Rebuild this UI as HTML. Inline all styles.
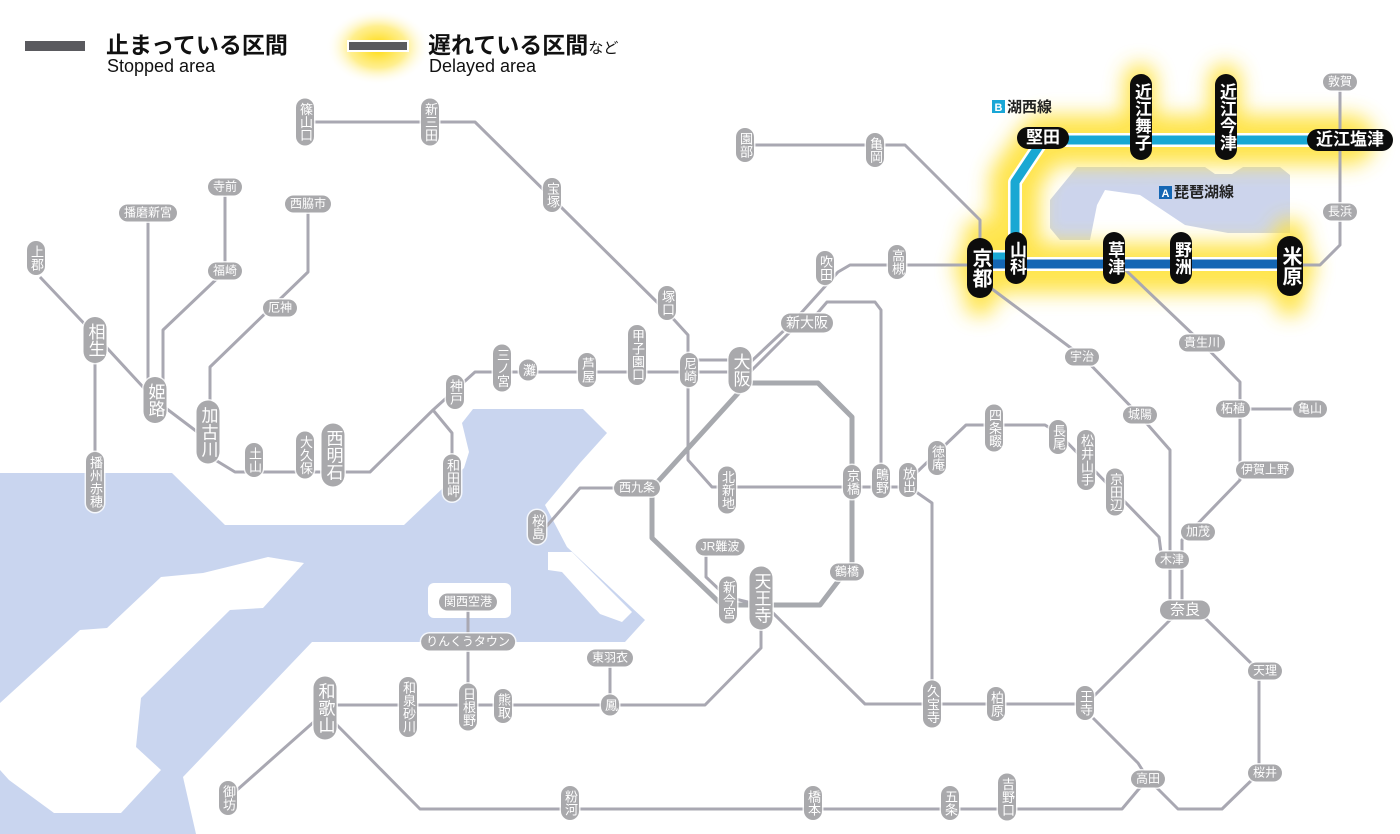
<!DOCTYPE html>
<html><head><meta charset="utf-8">
<style>
html,body{margin:0;padding:0;background:#fff;}
#w{position:relative;width:1400px;height:834px;overflow:hidden;font-family:"Liberation Sans","Noto Sans CJK JP",sans-serif;}
svg{position:absolute;left:0;top:0;}
.s{position:absolute;transform:translate(-50%,-50%);background:#a9a9ac;color:#fff;font:12px/17px "Liberation Sans","Noto Sans CJK JP",sans-serif;border-radius:9px;padding:0 5px;white-space:nowrap;box-shadow:0 0 0 1.5px rgba(255,255,255,.8);}
.v{writing-mode:vertical-rl;text-orientation:upright;padding:4px 0;width:18px;font-size:13px;line-height:18px;text-align:center;}
.L{font-size:17px;width:23px;line-height:23px;border-radius:12px;padding:6px 0;}
.k{background:#0c0c0c;font-weight:bold;font-size:17px;line-height:22px;border-radius:11px;padding:0 9px;box-shadow:none;}
.kv{writing-mode:vertical-rl;text-orientation:upright;width:22px;padding:9px 0;}
.kb{font-size:20px;width:26px;line-height:26px;border-radius:13px;padding:10px 0;}
.t{position:absolute;white-space:nowrap;color:#111;}
</style></head><body><div id="w">
<svg width="1400" height="834" viewBox="0 0 1400 834">
<defs>
<filter id="bl" x="-20%" y="-50%" width="140%" height="200%"><feGaussianBlur stdDeviation="10"/></filter>
<radialGradient id="lg"><stop offset="0" stop-color="#ffd800"/><stop offset="0.55" stop-color="#ffe860" stop-opacity=".7"/><stop offset="1" stop-color="#fff" stop-opacity="0"/></radialGradient>
</defs>
<polygon fill="#c9d5ef" points="0,473 172,473 225,525 404,525 464,468 469,452 462,423 473,409 583,409 607,433 580,463 545,505 567,547 645,620 625,642 312,642 183,777 196,834 0,834"/>
<polygon fill="#fff" points="0,703 80,630 107,628 161,577 203,573 268,557 304,563 263,608 230,610 141,698 136,747 161,770 121,813 54,813 9,780 0,770"/>
<rect x="428" y="583" width="83" height="35" rx="6" fill="#fff"/>
<polygon fill="#fff" points="548,552 572,552 632,612 622,622 600,614 562,572 548,570"/>
<polygon fill="#ccd4ec" points="1050,200 1077,167 1205,167 1215,174 1232,174 1243,167 1280,167 1290,175 1290,233 1228,233 1185,225 1140,195 1105,190 1097,205 1090,240 1060,240 1050,228"/>
<g filter="url(#bl)" fill="none" stroke="#ffe23a" stroke-linejoin="round" stroke-linecap="round" opacity=".9">
<polyline stroke-width="50" points="980,268 1290,268"/>
<polyline stroke-width="50" points="1015,258 1015,180 1043,140 1350,140"/>
<polyline stroke-width="32" points="980,235 980,300"/>
<polyline stroke-width="32" points="1290,235 1290,300"/>
<polyline stroke-width="32" points="1140,80 1140,150"/>
<polyline stroke-width="32" points="1225,80 1225,150"/>
</g>
<ellipse cx="378" cy="47" rx="52" ry="38" fill="url(#lg)"/>
<rect x="25" y="41" width="60" height="10" fill="#5a5a5e"/>
<rect x="347" y="40" width="62" height="12" fill="#fff"/>
<rect x="349" y="42" width="58" height="8" fill="#5a5a5e"/>
<g fill="none" stroke="#a9a8b2" stroke-width="3" stroke-linejoin="round">
<polyline points="305,122 475,122 667,312 688,335 688,460 712,487 909,487"/>
<polyline points="40,277 95,335 155,400 208,440 212,458 235,472 370,472 433,410 475,372 740,372"/>
<polyline points="688,360 740,360"/>
<polyline points="95,342 95,480"/>
<polyline points="148,213 148,400"/>
<polyline points="225,187 225,271 163,330 163,400"/>
<polyline points="308,204 308,272 210,367 210,432"/>
<polyline points="433,410 452,433 452,478"/>
<polyline points="740,372 793,322 838,272 850,265 980,265"/>
<polyline points="750,372 800,322 809,318"/>
<polyline points="809,323 827,302 875,302 881,310 881,480"/>
<polyline points="745,145 905,145 980,220 980,265"/>
<polyline points="637,488 580,488 545,528"/>
<polyline points="706,547 706,577 727,597 760,605"/>
<polyline points="909,487 916,473 966,425 1045,425 1058,433 1159,537 1162,560"/>
<polyline points="980,280 1083,357 1141,417 1170,450 1170,610"/>
<polyline points="1113,258 1202,343 1240,382 1240,480 1182,540 1182,607"/>
<polyline points="1240,409 1310,409"/>
<polyline points="1290,265 1320,265 1340,245 1340,82"/>
<polyline points="760,605 773,613 865,704 1085,704"/>
<polyline points="909,487 932,503 932,704"/>
<polyline points="1085,704 1093,697 1170,620 1185,610"/>
<polyline points="1200,615 1207,620 1259,671 1259,773 1222,809 1178,809 1148,779"/>
<polyline points="1093,718 1138,763 1148,779 1138,790 1122,809 420,809 330,718"/>
<polyline points="761,605 761,648 705,705 325,705"/>
<polyline points="468,602 468,705"/>
<polyline points="610,658 610,705"/>
<polyline points="325,712 228,798"/>
</g>
<polyline fill="none" stroke="#a7a9ae" stroke-width="5" stroke-linejoin="round" points="741,390 750,383 818,383 852,417 852,563 820,605 722,605 652,538 652,488 741,390"/>
<g fill="none" stroke-linejoin="round">
<polyline stroke="#fff" stroke-width="14" points="980,257 1015,257 1015,182 1043,140 1350,140"/>
<polyline stroke="#fff" stroke-width="14" points="980,264 1290,264"/>
<polyline stroke="#19a8d3" stroke-width="9" points="980,257 1015,257 1015,182 1043,140 1350,140"/>
<polyline stroke="#1466b4" stroke-width="9" points="980,264 1290,264"/>
</g>
<rect x="992" y="100" width="13" height="13" fill="#1aa6d6"/>
<text x="998.5" y="111" font-size="11" font-weight="bold" fill="#fff" text-anchor="middle" font-family="Liberation Sans">B</text>
<rect x="1159" y="186" width="13" height="13" fill="#1466b4"/>
<text x="1165.5" y="197" font-size="11" font-weight="bold" fill="#fff" text-anchor="middle" font-family="Liberation Sans">A</text>
</svg>

<div class="t" style="left:106px;top:26px;font-size:23px;font-weight:bold;">止まっている区間</div>
<div class="t" style="left:107px;top:56px;font-size:18px;">Stopped area</div>
<div class="t" style="left:428px;top:26px;font-size:23px;font-weight:bold;">遅れている区間<span style="font-size:15px;font-weight:normal">など</span></div>
<div class="t" style="left:429px;top:56px;font-size:18px;">Delayed area</div>
<div class="t" style="left:1007px;top:96px;font-size:15px;font-weight:bold;color:#222">湖西線</div>
<div class="t" style="left:1174px;top:181px;font-size:15px;font-weight:bold;color:#222">琵琶湖線</div>

<div class="s v" style="left:305px;top:122px">篠山口</div>
<div class="s v" style="left:430px;top:122px">新三田</div>
<div class="s v" style="left:552px;top:195px">宝塚</div>
<div class="s v" style="left:667px;top:303px">塚口</div>
<div class="s v" style="left:689px;top:370px">尼崎</div>
<div class="s v L" style="left:740px;top:370px">大阪</div>
<div class="s v" style="left:637px;top:355px">甲子園口</div>
<div class="s v" style="left:587px;top:370px">芦屋</div>
<div class="s v" style="left:528px;top:370px">灘</div>
<div class="s v" style="left:502px;top:368px">三ノ宮</div>
<div class="s v" style="left:455px;top:392px">神戸</div>
<div class="s v" style="left:452px;top:478px">和田岬</div>
<div class="s v L" style="left:333px;top:455px">西明石</div>
<div class="s v" style="left:305px;top:455px">大久保</div>
<div class="s v" style="left:254px;top:460px">土山</div>
<div class="s v L" style="left:208px;top:432px">加古川</div>
<div class="s v L" style="left:155px;top:400px">姫路</div>
<div class="s v L" style="left:95px;top:340px">相生</div>
<div class="s v" style="left:36px;top:258px">上郡</div>
<div class="s v" style="left:95px;top:482px">播州赤穂</div>
<div class="s" style="left:148px;top:213px">播磨新宮</div>
<div class="s" style="left:225px;top:187px">寺前</div>
<div class="s" style="left:225px;top:271px">福崎</div>
<div class="s" style="left:308px;top:204px">西脇市</div>
<div class="s" style="left:280px;top:308px">厄神</div>
<div class="s v" style="left:745px;top:145px">園部</div>
<div class="s v" style="left:875px;top:150px">亀岡</div>
<div class="s v" style="left:825px;top:268px">吹田</div>
<div class="s v" style="left:897px;top:262px">高槻</div>
<div class="s" style="left:807px;top:323px;font-size:14px;line-height:19px;border-radius:10px">新大阪</div>
<div class="s" style="left:1340px;top:82px">敦賀</div>
<div class="s" style="left:1340px;top:212px">長浜</div>
<div class="s" style="left:1082px;top:357px">宇治</div>
<div class="s" style="left:1140px;top:415px">城陽</div>
<div class="s" style="left:1202px;top:343px">貴生川</div>
<div class="s" style="left:1233px;top:409px">柘植</div>
<div class="s" style="left:1310px;top:409px">亀山</div>
<div class="s" style="left:1265px;top:470px">伊賀上野</div>
<div class="s" style="left:1198px;top:532px">加茂</div>
<div class="s" style="left:1172px;top:560px">木津</div>
<div class="s" style="left:1185px;top:610px;font-size:15px;line-height:19px;border-radius:10px;padding:0 10px">奈良</div>
<div class="s" style="left:1265px;top:671px">天理</div>
<div class="s" style="left:1265px;top:773px">桜井</div>
<div class="s" style="left:1148px;top:779px">高田</div>
<div class="s v" style="left:1085px;top:703px">王寺</div>
<div class="s v" style="left:996px;top:704px">柏原</div>
<div class="s v" style="left:932px;top:704px">久宝寺</div>
<div class="s v" style="left:908px;top:480px">放出</div>
<div class="s v" style="left:881px;top:481px">鴫野</div>
<div class="s v" style="left:852px;top:482px">京橋</div>
<div class="s v" style="left:937px;top:458px">徳庵</div>
<div class="s v" style="left:994px;top:428px">四条畷</div>
<div class="s v" style="left:1058px;top:437px">長尾</div>
<div class="s v" style="left:1086px;top:460px">松井山手</div>
<div class="s v" style="left:1115px;top:492px">京田辺</div>
<div class="s v" style="left:727px;top:490px">北新地</div>
<div class="s" style="left:637px;top:488px">西九条</div>
<div class="s v" style="left:537px;top:527px">桜島</div>
<div class="s" style="left:720px;top:547px">JR難波</div>
<div class="s v" style="left:728px;top:600px">新今宮</div>
<div class="s v L" style="left:761px;top:598px">天王寺</div>
<div class="s" style="left:847px;top:572px">鶴橋</div>
<div class="s" style="left:468px;top:602px">関西空港</div>
<div class="s" style="left:468px;top:642px">りんくうタウン</div>
<div class="s" style="left:610px;top:658px">東羽衣</div>
<div class="s v" style="left:610px;top:705px">鳳</div>
<div class="s v" style="left:503px;top:706px">熊取</div>
<div class="s v" style="left:468px;top:707px">日根野</div>
<div class="s v" style="left:408px;top:707px">和泉砂川</div>
<div class="s v L" style="left:325px;top:708px">和歌山</div>
<div class="s v" style="left:228px;top:798px">御坊</div>
<div class="s v" style="left:570px;top:803px">粉河</div>
<div class="s v" style="left:813px;top:803px">橋本</div>
<div class="s v" style="left:950px;top:803px">五条</div>
<div class="s v" style="left:1007px;top:797px">吉野口</div>

<div class="s k kv kb" style="left:980px;top:268px">京都</div>
<div class="s k kv" style="left:1016px;top:258px">山科</div>
<div class="s k" style="left:1043px;top:138px">堅田</div>
<div class="s k kv" style="left:1141px;top:117px">近江舞子</div>
<div class="s k kv" style="left:1226px;top:117px">近江今津</div>
<div class="s k" style="left:1350px;top:140px">近江塩津</div>
<div class="s k kv" style="left:1114px;top:258px">草津</div>
<div class="s k kv" style="left:1181px;top:258px">野洲</div>
<div class="s k kv kb" style="left:1290px;top:266px">米原</div>
</div></body></html>
